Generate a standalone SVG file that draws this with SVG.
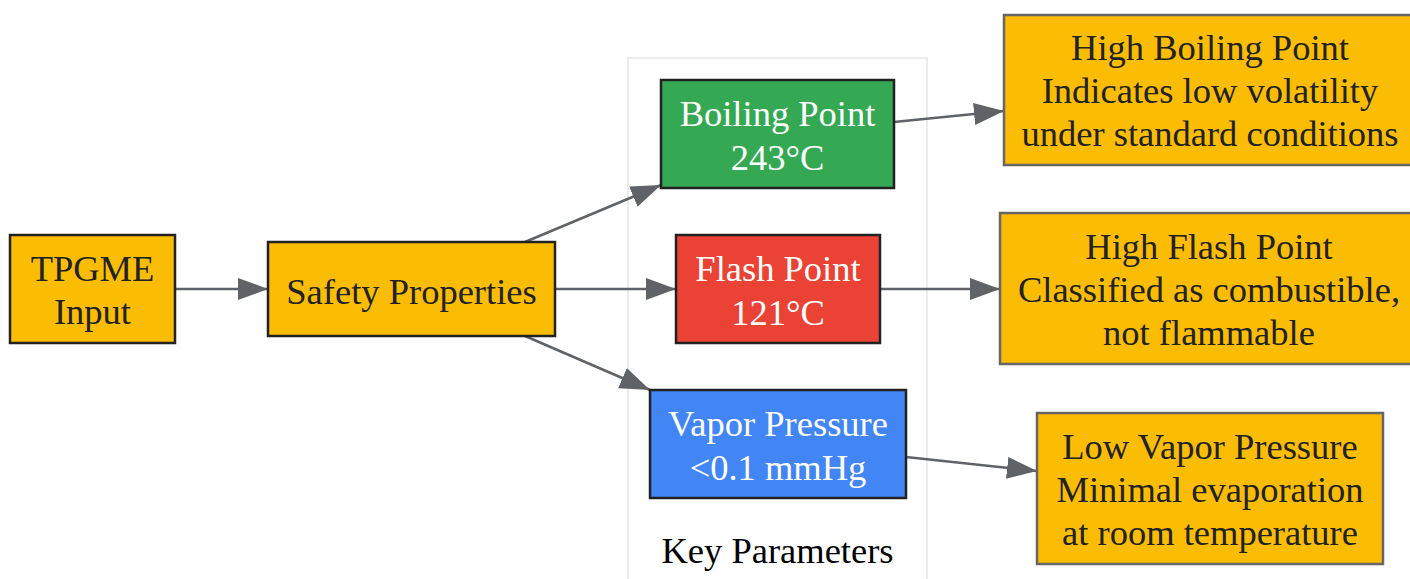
<svg xmlns="http://www.w3.org/2000/svg" width="1410" height="579" viewBox="0 0 1410 579">
<defs>
<marker id="arr" markerUnits="userSpaceOnUse" markerWidth="32" markerHeight="24" refX="30" refY="11" orient="auto">
<path d="M0,0 L30,11 L0,22 Z" fill="#5f6368"/>
</marker>
<style>
text{font-family:"Liberation Serif","Times New Roman",serif;font-size:36.5px;text-anchor:middle}
.dk{fill:#222}
.wt{fill:#fff}
.main{stroke:#222;stroke-width:2.5}
.res{fill:#FBBC04;stroke:#666;stroke-width:2.5}
.edge{fill:none;stroke:#5f6368;stroke-width:2.5;marker-end:url(#arr)}
</style>
</defs>
<rect width="1410" height="579" fill="#fff"/>
<g id="cluster">
<rect x="628" y="58" width="299" height="540" fill="#fff" stroke="#ececec" stroke-width="2"/>
<text class="dk" x="777.5" y="563" style="fill:#000">Key Parameters</text>
</g>
<g id="connectors">
<line class="edge" x1="175" y1="289" x2="268" y2="289"/>
<line class="edge" x1="525" y1="242" x2="661" y2="185"/>
<line class="edge" x1="555" y1="289" x2="676" y2="289"/>
<line class="edge" x1="525" y1="336" x2="650" y2="390"/>
<line class="edge" x1="894" y1="122" x2="1004" y2="111"/>
<line class="edge" x1="880" y1="289" x2="1000" y2="289"/>
<line class="edge" x1="906" y1="457" x2="1037" y2="471"/>
</g>
<g id="tpgme">
<rect class="main" x="10" y="235" width="165" height="108" fill="#FBBC04"/>
<text class="dk" x="92.5" y="281">TPGME</text>
<text class="dk" x="92.5" y="324">Input</text>
</g>
<g id="safety">
<rect class="main" x="268" y="242" width="287" height="94" fill="#FBBC04"/>
<text class="dk" x="411.5" y="304">Safety Properties</text>
</g>
<g id="boiling">
<rect class="main" x="661" y="80" width="233" height="108" fill="#34A853"/>
<text class="wt" x="777.5" y="126">Boiling Point</text>
<text class="wt" x="777.5" y="170">243°C</text>
</g>
<g id="flash">
<rect class="main" x="676" y="235" width="204" height="108" fill="#EA4335"/>
<text class="wt" x="778" y="281">Flash Point</text>
<text class="wt" x="778" y="325">121°C</text>
</g>
<g id="vapor">
<rect class="main" x="650" y="390" width="256" height="108" fill="#4285F4"/>
<text class="wt" x="778" y="436">Vapor Pressure</text>
<text class="wt" x="778" y="480">&lt;0.1 mmHg</text>
</g>
<g id="highboil">
<rect class="res" x="1004" y="15" width="412" height="150"/>
<text class="dk" x="1210" y="60">High Boiling Point</text>
<text class="dk" x="1210" y="103">Indicates low volatility</text>
<text class="dk" x="1210" y="146">under standard conditions</text>
</g>
<g id="highflash">
<rect class="res" x="1000" y="213" width="420" height="151"/>
<text class="dk" x="1209" y="259">High Flash Point</text>
<text class="dk" x="1209" y="302">Classified as combustible,</text>
<text class="dk" x="1209" y="345">not flammable</text>
</g>
<g id="lowvapor">
<rect class="res" x="1037" y="413" width="346" height="151"/>
<text class="dk" x="1210" y="459">Low Vapor Pressure</text>
<text class="dk" x="1210" y="502">Minimal evaporation</text>
<text class="dk" x="1210" y="545">at room temperature</text>
</g>
</svg>
